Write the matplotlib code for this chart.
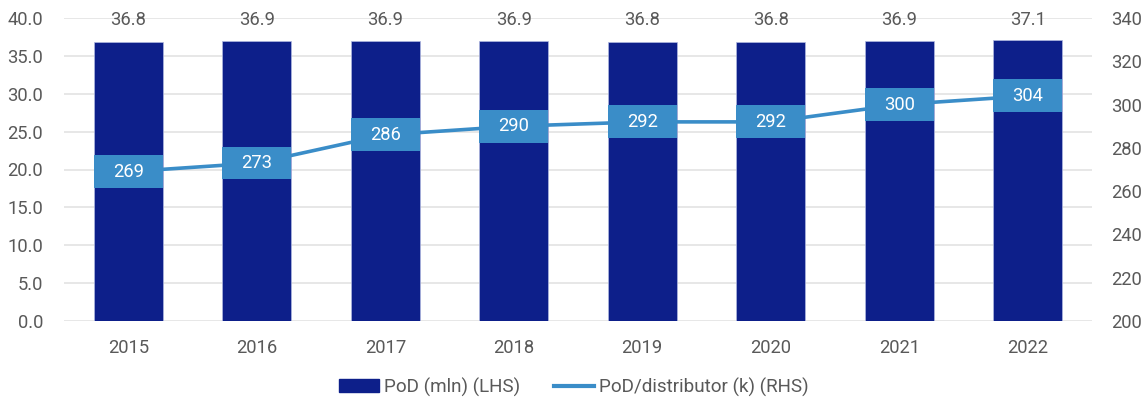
import matplotlib.pyplot as plt
from matplotlib.patches import Patch
from matplotlib.lines import Line2D
import numpy as np

plt.rcParams['font.family'] = ['Roboto', 'DejaVu Sans']

years = ['2015', '2016', '2017', '2018', '2019', '2020', '2021', '2022']
pod_mln = [36.8, 36.9, 36.9, 36.9, 36.8, 36.8, 36.9, 37.1]
pod_per_distributor = [269, 273, 286, 290, 292, 292, 300, 304]

bar_color = '#0D1F8A'
line_color = '#3A8DC8'
text_color = '#595959'
fs = 13.2

fig = plt.figure(figsize=(11.48, 4.03), dpi=100)
ax = fig.add_axes([64 / 1148, 1 - 321 / 403, 1028 / 1148, 303 / 403])
ax2 = ax.twinx()

x = np.arange(len(years))
bw = 0.54
ax.bar(x, pod_mln, width=bw, color=bar_color, edgecolor='#B0B8E0', linewidth=0.5, zorder=2)
for xi, v in zip(x, pod_mln):
    ax.text(xi, 39.7, f'{v:.1f}', ha='center', va='center', fontsize=fs, color=text_color)

ax.set_ylim(0, 40)
ax.set_xlim(-0.5, len(years) - 0.5)
ax.set_yticks(np.arange(0, 45, 5))
ax.set_yticklabels([f'{t:.1f}' for t in np.arange(0, 45, 5)])
ax.set_xticks(x)
ax.set_xticklabels(years)
ax.grid(axis='y', color='#E3E3E3', linewidth=1.2, zorder=0)
ax.set_axisbelow(True)

# line and label boxes on right axis
ax2.set_ylim(200, 340)
ax2.set_yticks(np.arange(200, 360, 20))
ax2.plot(x, pod_per_distributor, color=line_color, linewidth=2.6, zorder=3, solid_capstyle='butt')
box_h = 15.2
ax2.bar(x, [box_h] * len(x), bottom=[v - box_h / 2 for v in pod_per_distributor],
        width=bw, color=line_color, zorder=4)
for xi, v in zip(x, pod_per_distributor):
    ax2.text(xi, v, str(v), ha='center', va='center', fontsize=fs, color='white', zorder=5)

for a in (ax, ax2):
    for s in a.spines.values():
        s.set_visible(False)
    a.tick_params(length=0, labelsize=fs, labelcolor=text_color)
ax.tick_params(axis='y', pad=15)
ax.tick_params(axis='x', pad=13)
ax2.tick_params(axis='y', pad=14)

handles = [Patch(color=bar_color), Line2D([0], [0], color=line_color, linewidth=3)]
fig.legend(handles, ['PoD (mln) (LHS)', 'PoD/distributor (k) (RHS)'], loc='center',
           bbox_to_anchor=(0.5, 1 - 387 / 403), ncol=2, frameon=False, fontsize=13.6,
           labelcolor=text_color, handlelength=2.1, handletextpad=0.27, columnspacing=1.8)

fig.savefig('out.png', dpi=100)
